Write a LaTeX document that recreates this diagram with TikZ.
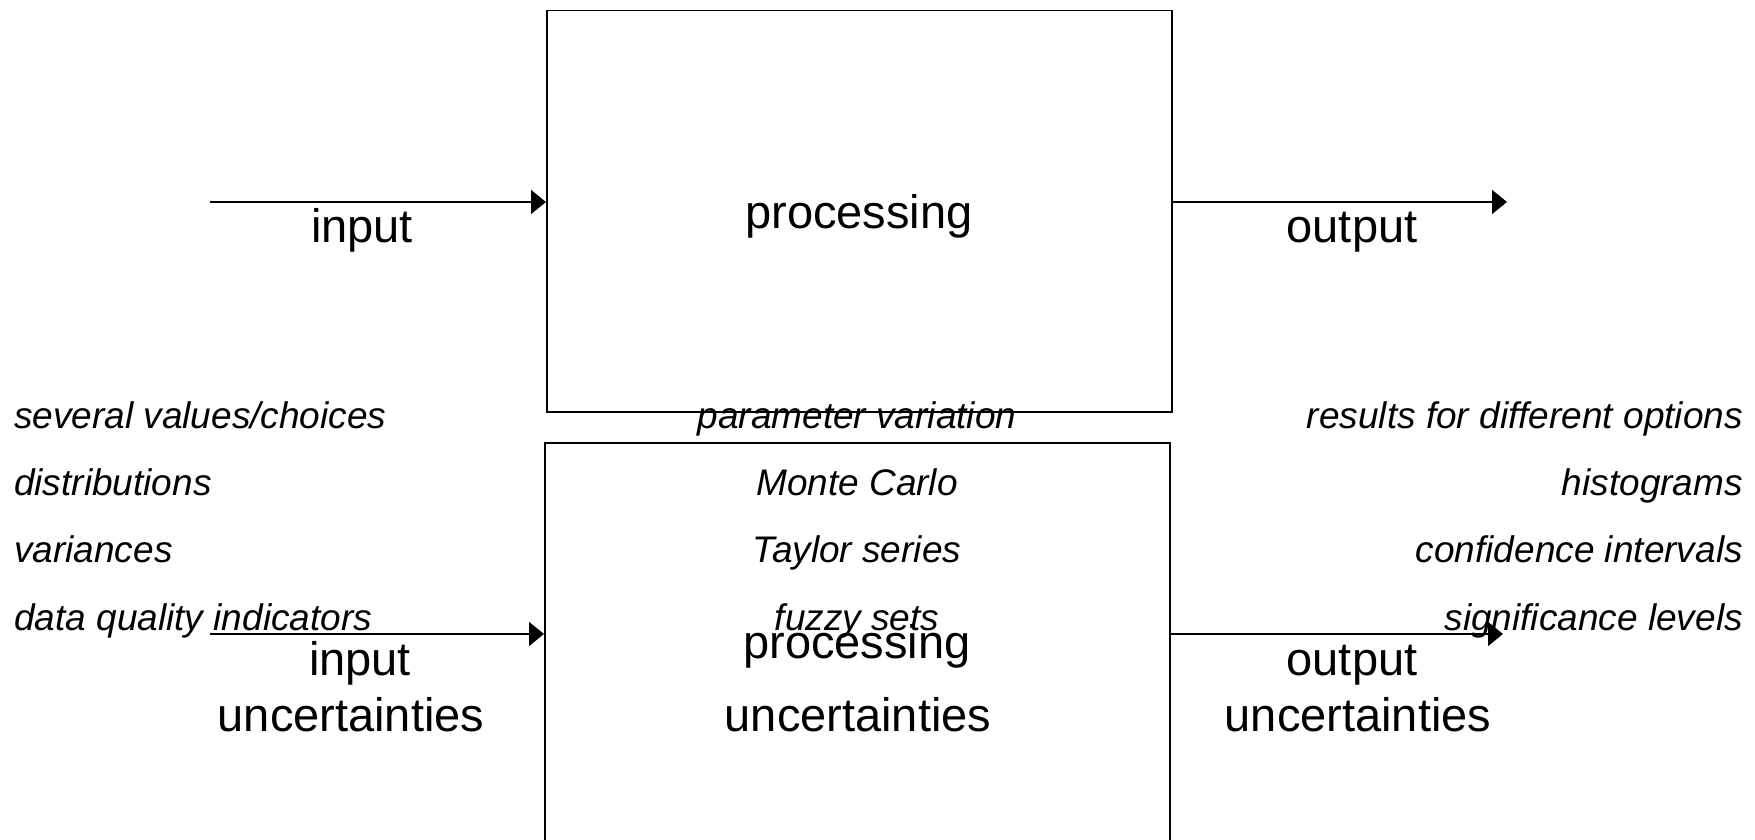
\documentclass[tikz,border=0pt]{standalone}
\usepackage{fontspec}
\setmainfont{Liberation Sans}
\usetikzlibrary{arrows.meta}
\begin{document}
\begin{tikzpicture}[x=1pt,y=-1pt,
  blk/.style={draw, line width=1.5pt, inner sep=0pt, anchor=north west},
  flow/.style={line width=1.5pt, -{Triangle[length=15pt,width=24pt]}},
  big/.style={font=\fontsize{47}{54}\selectfont, inner sep=0pt, anchor=base},
  lst/.style={font=\fontsize{37}{44}\selectfont\itshape, inner sep=0pt}]
\useasboundingbox (0,0) rectangle (1755,840);
\fill[white] (0,0) rectangle (1755,840);
% boxes
\node[blk, minimum width=625pt, minimum height=401pt] (proc) at (546,10) {};
\node[blk, minimum width=625pt, minimum height=400pt] (uproc) at (544,442) {};
% arrows
\coordinate (inS) at (210,202);
\coordinate (outE) at (1507,202);
\coordinate (uinS) at (210,634);
\coordinate (uoutE) at (1503,634);
\draw[flow] (inS) -- (inS -| proc.west);
\draw[flow] (outE -| proc.east) -- (outE);
\draw[flow] (uinS) -- (uinS -| uproc.west);
\draw[flow] (uoutE -| uproc.east) -- (uoutE);
% main labels
\node[big] (lin) at (362,242) {input};
\node[big] (lproc) at (859,228) {processing};
\node[big] (lout) at (1352,242) {output};
\node[big] (luin1) at (360,675) {input};
\node[big] (luin2) at (351,731) {uncertainties};
\node[big] (lup1) at (857,658) {processing};
\node[big] (lup2) at (858,731) {uncertainties};
\node[big] (luo1) at (1352,675) {output};
\node[big] (luo2) at (1358,731) {uncertainties};
% left list
\node[lst, anchor=base west] (l1) at (14,428) {several values/choices};
\node[lst, anchor=base west] (l2) at (14,495) {distributions};
\node[lst, anchor=base west] (l3) at (14,562) {variances};
\node[lst, anchor=base west] (l4) at (14,630) {data quality indicators};
% centre list
\node[lst, anchor=base] (c1) at (857,428) {parameter variation};
\node[lst, anchor=base] (c2) at (857,495) {Monte Carlo};
\node[lst, anchor=base] (c3) at (857,562) {Taylor series};
\node[lst, anchor=base] (c4) at (857,630) {fuzzy sets};
% right list
\node[lst, anchor=base east] (r1) at (1743,428) {results for different options};
\node[lst, anchor=base east] (r2) at (1743,495) {histograms};
\node[lst, anchor=base east] (r3) at (1743,562) {confidence intervals};
\node[lst, anchor=base east] (r4) at (1743,630) {significance levels};
\end{tikzpicture}
\end{document}
